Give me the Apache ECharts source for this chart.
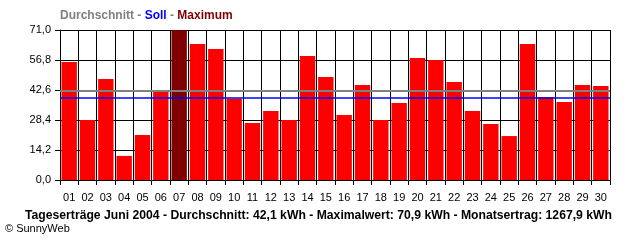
<!DOCTYPE html>
<html><head><meta charset="utf-8">
<script src="https://cdn.jsdelivr.net/npm/echarts@6/dist/echarts.min.js"></script>
<style>html,body{margin:0;padding:0;background:#fff}#c{width:640px;height:240px}</style>
</head><body><div id="c"></div>
<script>
const days = ['01','02','03','04','05','06','07','08','09','10','11','12','13','14','15','16','17','18','19','20','21','22','23','24','25','26','27','28','29','30'];
const yields = [55.8,28.4,47.8,11.4,21.3,42.4,70.9,64.4,62.0,38.5,27.0,32.7,28.4,58.7,48.7,30.8,45.0,28.4,36.4,57.7,56.8,46.4,32.7,26.5,20.8,64.4,39.3,36.9,45.0,44.5];
const average = 42.1;
const target = 38.7;
const yTicks = ['0,0','14,2','28,4','42,6','56,8','71,0'];
const footer = 'Tageserträge Juni 2004 - Durchschnitt: 42,1 kWh - Maximalwert: 70,9 kWh - Monatsertrag: 1267,9 kWh';

const maxVal = Math.max(...yields);
const chart = echarts.init(document.getElementById('c'), null, {renderer:'canvas'});
const font = 'Liberation Sans';
chart.setOption({
  animation:false,
  backgroundColor:'#fff',
  title:[
    {left:55, top:5, text:'{g|Durchschnitt - }{b|Soll}{g| - }{r|Maximum}',
     textStyle:{rich:{
       g:{color:'#808080',fontWeight:'bold',fontSize:12,fontFamily:font},
       b:{color:'#0000ff',fontWeight:'bold',fontSize:12,fontFamily:font},
       r:{color:'#800000',fontWeight:'bold',fontSize:12,fontFamily:font}}}},
    {left:20, top:205, text:footer, textStyle:{color:'#000',fontWeight:'bold',fontSize:12.2,fontFamily:font}},
    {left:0, top:218, text:'© SunnyWeb', textStyle:{color:'#000',fontWeight:'normal',fontSize:11,fontFamily:font}}
  ],
  grid:{left:60,right:30,top:30,bottom:60},
  xAxis:{type:'category',data:days,boundaryGap:true,
    axisLine:{lineStyle:{color:'#000',width:1}},
    axisTick:{show:true,length:5,inside:false,lineStyle:{color:'#000'}},
    axisLabel:{color:'#000',fontSize:11,fontFamily:font,margin:12,interval:0},
    splitLine:{show:true,interval:0,lineStyle:{color:'#000',width:1}}
  },
  yAxis:{type:'value',min:0,max:71,interval:14.2,
    axisLine:{show:true,lineStyle:{color:'#000',width:1}},
    axisTick:{show:true,length:5,lineStyle:{color:'#000'}},
    axisLabel:{color:'#000',fontSize:11,fontFamily:font,margin:9,
      formatter:(v)=>{const i=Math.round(v/14.2);return yTicks[i]!==undefined?yTicks[i]:'';}},
    splitLine:{show:true,lineStyle:{color:'#000',width:1}}
  },
  series:[{
    type:'bar',
    data:yields.map(v=>({value:v,itemStyle:{color:v===maxVal?'#800000':'#ff0000'}})),
    barCategoryGap:'16%',
    markLine:{silent:true,symbol:'none',label:{show:false},animation:false,
      data:[
        {yAxis:average,lineStyle:{color:'#808080',width:2,type:'solid'}},
        {yAxis:target,lineStyle:{color:'#0000ff',width:1.5,type:'solid'}}
      ]}
  }]
});
</script></body></html>
